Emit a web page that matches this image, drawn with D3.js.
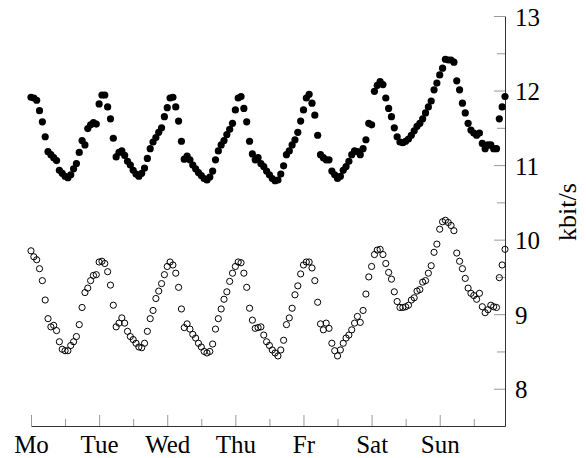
<!DOCTYPE html>
<html>
<head>
<meta charset="utf-8">
<script src="https://cdn.jsdelivr.net/npm/d3@7"></script>
<style>
  body { margin: 0; background: #fff; }
  svg text { font-family: "Liberation Serif", "Times New Roman", serif; fill: #000; }
</style>
</head>
<body>
<script>
// weekday labels, one per 24 hours
const days = ['Mo', 'Tue', 'Wed', 'Thu', 'Fr', 'Sat', 'Sun'];
const yTicks = [8, 8.5, 9, 9.5, 10, 10.5, 11, 11.5, 12, 12.5, 13];

// hourly means, filled markers (Mo 0h .. Sun 23h)
const filled = [
  11.91, 11.90, 11.87, 11.73, 11.58, 11.38, 11.18, 11.14, 11.10, 11.06, 10.93, 10.89,
  10.85, 10.83, 10.87, 10.95, 11.02, 11.17, 11.33, 11.27, 11.49, 11.54, 11.57, 11.55,
  11.82, 11.94, 11.94, 11.78, 11.62, 11.36, 11.11, 11.17, 11.19, 11.13, 11.05, 11.00,
  10.93, 10.88, 10.85, 10.89, 10.96, 11.09, 11.22, 11.31, 11.37, 11.44, 11.50, 11.65,
  11.77, 11.90, 11.91, 11.78, 11.59, 11.32, 11.08, 11.12, 11.07, 11.00, 10.95, 10.90,
  10.86, 10.82, 10.80, 10.84, 10.92, 11.07, 11.19, 11.27, 11.33, 11.41, 11.48, 11.56,
  11.74, 11.90, 11.92, 11.76, 11.58, 11.32, 11.15, 11.07, 11.10, 11.02, 10.98, 10.92,
  10.87, 10.82, 10.79, 10.80, 10.88, 10.99, 11.14, 11.19, 11.27, 11.34, 11.44, 11.59,
  11.74, 11.90, 11.95, 11.83, 11.67, 11.40, 11.14, 11.10, 11.07, 11.07, 10.92, 10.87,
  10.82, 10.85, 10.93, 10.98, 11.05, 11.14, 11.19, 11.18, 11.14, 11.22, 11.34, 11.56,
  11.54, 11.99, 12.07, 12.12, 12.08, 11.90, 11.76, 11.65, 11.50, 11.38, 11.31, 11.30,
  11.32, 11.35, 11.40, 11.46, 11.52, 11.56, 11.62, 11.70, 11.78, 11.86, 12.01, 12.10,
  12.21, 12.30, 12.42, 12.41, 12.41, 12.38, 12.13, 12.01, 11.83, 11.70, 11.56, 11.47,
  11.43, 11.40, 11.43, 11.29, 11.22, 11.27, 11.27, 11.22, 11.22, 11.62, 11.78, 11.92
];

// hourly means, open markers
const open = [
  9.85, 9.77, 9.73, 9.61, 9.45, 9.19, 8.94, 8.83, 8.85, 8.78, 8.63, 8.53,
  8.51, 8.51, 8.58, 8.63, 8.70, 8.86, 9.09, 9.29, 9.35, 9.45, 9.52, 9.53,
  9.70, 9.71, 9.68, 9.57, 9.39, 9.12, 8.83, 8.88, 8.95, 8.88, 8.77, 8.70,
  8.66, 8.61, 8.56, 8.55, 8.61, 8.77, 8.94, 9.05, 9.21, 9.31, 9.41, 9.53,
  9.64, 9.70, 9.66, 9.55, 9.36, 9.07, 8.82, 8.87, 8.80, 8.73, 8.68, 8.61,
  8.56, 8.50, 8.48, 8.50, 8.60, 8.80, 8.94, 9.07, 9.20, 9.30, 9.44, 9.55,
  9.64, 9.70, 9.69, 9.55, 9.36, 9.08, 8.92, 8.81, 8.82, 8.83, 8.72, 8.63,
  8.58, 8.52, 8.48, 8.44, 8.52, 8.65, 8.86, 8.95, 9.08, 9.26, 9.38, 9.54,
  9.66, 9.70, 9.70, 9.62, 9.45, 9.16, 8.87, 8.79, 8.88, 8.81, 8.61, 8.51,
  8.44, 8.52, 8.61, 8.68, 8.72, 8.79, 8.88, 8.97, 8.89, 9.05, 9.27, 9.50,
  9.64, 9.80, 9.86, 9.87, 9.80, 9.68, 9.56, 9.47, 9.30, 9.17, 9.09, 9.09,
  9.10, 9.12, 9.19, 9.22, 9.31, 9.33, 9.43, 9.45, 9.55, 9.65, 9.83, 9.94,
  10.14, 10.24, 10.26, 10.23, 10.19, 10.12, 9.82, 9.71, 9.61, 9.48, 9.35, 9.28,
  9.25, 9.20, 9.28, 9.10, 9.02, 9.06, 9.12, 9.10, 9.09, 9.49, 9.66, 9.87
];

const width = 586;
const height = 458;
const serif = '"Liberation Serif", "Times New Roman", serif';

const svg = d3.select('body').append('svg')
  .attr('width', width)
  .attr('height', height);

const x = d3.scaleLinear().domain([0, filled.length - 1]).range([31, 505]);
const y = d3.scaleLinear().domain([7.5, 13]).range([426, 16]);

// x axis: a tick every 12 hours, day names on the long ones
const xAxis = svg.append('g')
  .attr('transform', `translate(0, ${y(7.5)})`)
  .call(d3.axisBottom(x)
    .tickValues(d3.range(0, filled.length, 12))
    .tickSizeInner(-7)
    .tickSizeOuter(0)
    .tickFormat(d => d % 24 === 0 ? days[d / 24] : ''))
  .attr('font-family', serif)
  .attr('font-size', 25);

xAxis.select('.domain').attr('stroke', '#333');
xAxis.selectAll('.tick line')
  .attr('stroke', '#999')
  .attr('y2', d => d % 24 === 0 ? -11 : -7);
xAxis.selectAll('.tick text')
  .attr('y', 27)
  .attr('dy', 0);

// y axis on the right
const yAxis = svg.append('g')
  .attr('transform', `translate(${x.range()[1]}, 0)`)
  .call(d3.axisRight(y)
    .tickValues(yTicks)
    .tickSizeInner(-8)
    .tickSizeOuter(0)
    .tickPadding(10)
    .tickFormat(d => Number.isInteger(d) ? d : ''))
  .attr('font-family', serif)
  .attr('font-size', 25);

yAxis.select('.domain').attr('stroke', '#333');
yAxis.selectAll('.tick line')
  .attr('stroke', '#999')
  .attr('x2', d => Number.isInteger(d) ? -11 : -8);
yAxis.selectAll('.tick text')
  .attr('dy', '0.36em');

svg.append('text')
  .attr('transform', `translate(576, ${y(10.37)}) rotate(-90)`)
  .attr('text-anchor', 'middle')
  .attr('font-family', serif)
  .attr('font-size', 26)
  .text('kbit/s');

svg.append('g')
  .selectAll('circle')
  .data(open)
  .join('circle')
  .attr('cx', (d, i) => x(i))
  .attr('cy', d => y(d))
  .attr('r', 3.1)
  .attr('fill', 'none')
  .attr('stroke', '#000')
  .attr('stroke-width', 1);

svg.append('g')
  .selectAll('circle')
  .data(filled)
  .join('circle')
  .attr('cx', (d, i) => x(i))
  .attr('cy', d => y(d))
  .attr('r', 3.6)
  .attr('fill', '#000');
</script>
</body>
</html>
